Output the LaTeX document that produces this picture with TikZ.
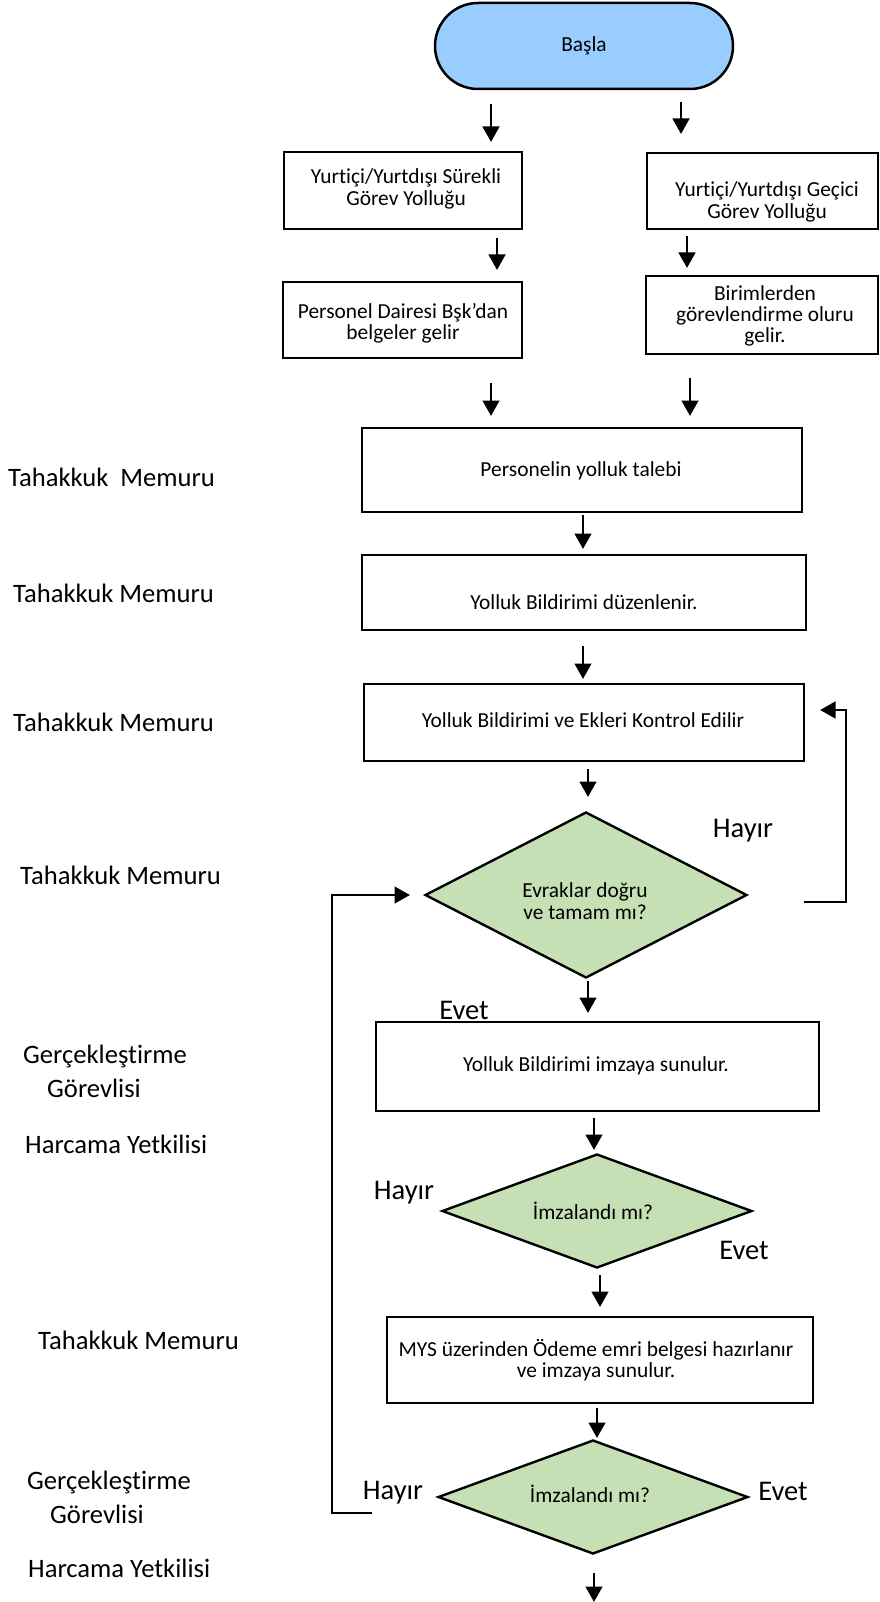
\documentclass[tikz,border=0pt]{standalone}
\usepackage{fontspec}
\setmainfont{Carlito}[Ligatures={NoCommon}]
\usetikzlibrary{arrows.meta,shapes.geometric}
\definecolor{startblue}{HTML}{99CCFF}
\definecolor{decgreen}{HTML}{C5E0B4}
\begin{document}
\begin{tikzpicture}[x=1pt,y=-1pt,
  box/.style={draw, line width=2.9pt, fill=white, inner sep=0pt},
  term/.style={draw, line width=2.5pt, fill=startblue, rounded corners=43pt, inner sep=0pt, minimum width=298pt, minimum height=86pt},
  dec/.style={draw, line width=2.4pt, fill=decgreen, diamond, inner sep=0pt},
  txt/.style={font=\fontsize{21.4}{21.3}\selectfont, align=center, inner sep=0pt},
  lbl/.style={font=\fontsize{26.6}{34}\selectfont, align=left, inner sep=0pt, anchor=west},
  yn/.style={font=\fontsize{28.5}{30}\selectfont, inner sep=0pt},
  arr/.style={line width=2.9pt, line join=miter, -{Triangle[width=16.5pt,length=15.5pt]}},
  link/.style={line width=2.9pt, line join=miter}
]
\useasboundingbox[fill=white] (0,0) rectangle (879,1602);

% ---- shapes ----
\node[term] (start) at (584,46) {};
\node[box, minimum width=238pt, minimum height=77pt] (b1) at (403,190.5) {};
\node[box, minimum width=231pt, minimum height=76pt] (b2) at (762.5,191) {};
\node[box, minimum width=239pt, minimum height=76pt] (b3) at (402.5,320) {};
\node[box, minimum width=232pt, minimum height=78pt] (b4) at (762,315) {};
\node[box, minimum width=440pt, minimum height=84pt] (b5) at (582,470) {};
\node[box, minimum width=444pt, minimum height=75pt] (b6) at (584,592.5) {};
\node[box, minimum width=440pt, minimum height=77pt] (b7) at (584,722.5) {};
\node[dec, minimum width=322pt, minimum height=166pt] (d1) at (586,895) {};
\node[box, minimum width=443pt, minimum height=89pt] (b8) at (597.5,1066.5) {};
\node[dec, minimum width=310pt, minimum height=114pt] (d2) at (597,1211) {};
\node[box, minimum width=426pt, minimum height=86pt] (b9) at (600,1360) {};
\node[dec, minimum width=310pt, minimum height=114pt] (d3) at (593,1497) {};

% ---- texts in shapes ----
\node[txt] (t0) at (584,46) {Başla};
\node[txt] (t1) at (406,189) {Yurtiçi/Yurtdışı Sürekli\\Görev Yolluğu};
\node[txt] (t2) at (767,202) {Yurtiçi/Yurtdışı Geçici\\Görev Yolluğu};
\node[txt] (t3) at (403,323) {Personel Dairesi Bşk’dan\\belgeler gelir};
\node[txt] (t4) at (765,316) {Birimlerden\\görevlendirme oluru\\gelir.};
\node[txt] (t5) at (581,471) {Personelin yolluk talebi};
\node[txt] (t6) at (584,602) {Yolluk Bildirimi düzenlenir.};
\node[txt] (t7) at (583,720) {Yolluk Bildirimi ve Ekleri Kontrol Edilir};
\node[txt] (t8) at (585,901) {Evraklar doğru\\ve tamam mı?};
\node[txt] (t9) at (596,1066) {Yolluk Bildirimi imzaya sunulur.};
\node[txt] (t10) at (593,1211) {İmzalandı mı?};
\node[txt] (t11) at (596,1360) {MYS üzerinden Ödeme emri belgesi hazırlanır\\ve imzaya sunulur.};
\node[txt] (t12) at (590,1494) {İmzalandı mı?};

% ---- yes / no labels ----
\node[yn] (h1) at (743,831) {Hayır};
\node[yn] (e1) at (464,1010) {Evet};
\node[yn] (h2) at (404,1193) {Hayır};
\node[yn] (e2) at (744,1250) {Evet};
\node[yn] (h3) at (393,1493) {Hayır};
\node[yn] (e3) at (783,1491) {Evet};

% ---- role labels ----
\node[lbl] (l1) at (8,477) {Tahakkuk\ \ Memuru};
\node[lbl] (l2) at (13,593) {Tahakkuk Memuru};
\node[lbl] (l3) at (13,722) {Tahakkuk Memuru};
\node[lbl] (l4) at (20,875) {Tahakkuk Memuru};
\node[lbl] (l5) at (23,1071) {Gerçekleştirme\\\hspace*{24pt}Görevlisi};
\node[lbl] (l6) at (25,1144) {Harcama Yetkilisi};
\node[lbl] (l7) at (38,1340) {Tahakkuk Memuru};
\node[lbl] (l8) at (27,1497) {Gerçekleştirme\\\hspace*{23pt}Görevlisi};
\node[lbl] (l9) at (28,1568) {Harcama Yetkilisi};

% ---- arrow end points ----
\coordinate (a1s) at (491,104);  \coordinate (a1e) at (491,142);
\coordinate (a2s) at (681,102);  \coordinate (a2e) at (681,134);
\coordinate (a3s) at (497,238);  \coordinate (a3e) at (497,270);
\coordinate (a4s) at (687,236);  \coordinate (a4e) at (687,268);
\coordinate (a5s) at (491,383);  \coordinate (a5e) at (491,416);
\coordinate (a6s) at (690,378);  \coordinate (a6e) at (690,416);
\coordinate (a7s) at (583,515);  \coordinate (a7e) at (583,549);
\coordinate (a8s) at (583,646);  \coordinate (a8e) at (583,679);
\coordinate (a9s) at (588,769);  \coordinate (a9e) at (588,797);
\coordinate (a10s) at (588,981); \coordinate (a10e) at (588,1013);
\coordinate (a11s) at (594,1118); \coordinate (a11e) at (594,1150);
\coordinate (a12s) at (600,1275); \coordinate (a12e) at (600,1307);
\coordinate (a13s) at (597,1408); \coordinate (a13e) at (597,1438);
\coordinate (a14s) at (594,1573); \coordinate (a14e) at (594,1602);

\foreach \i in {1,...,14} { \draw[arr] (a\i s) -- (a\i e); }

% ---- loops ----
\coordinate (r1) at (804,902);
\coordinate (r2) at (846,902);
\coordinate (r3) at (846,710);
\coordinate (r4) at (820,710);
\draw[arr] (r1) -- (r2) -- (r3) -- (r4);

\coordinate (q1) at (372,1513);
\coordinate (q2) at (332,1513);
\coordinate (q3) at (332,895);
\coordinate (q4) at (410,895);
\draw[arr] (q1) -- (q2) -- (q3) -- (q4);
\end{tikzpicture}
\end{document}
